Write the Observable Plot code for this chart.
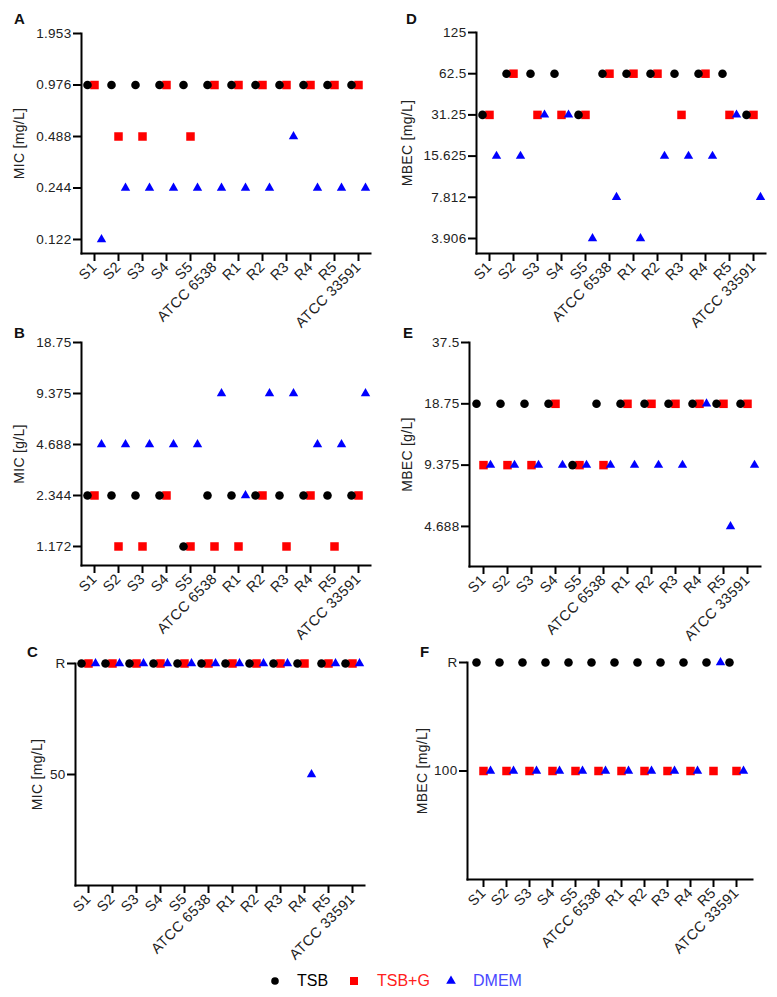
<!DOCTYPE html>
<html>
<head>
<meta charset="utf-8">
<script src="https://cdn.jsdelivr.net/npm/d3@7"></script>
<script src="https://cdn.jsdelivr.net/npm/@observablehq/plot@0.6"></script>
<style>
html, body { margin: 0; padding: 0; background: #fff; }
#fig { position: relative; width: 777px; height: 997px; overflow: hidden; font-family: "Liberation Sans", Arial, sans-serif; }
.panel { position: absolute; }
.panel svg { overflow: visible; }
.letter { position: absolute; font-weight: bold; font-size: 15px; color: #111; line-height: 1; }
.leg { position: absolute; font-size: 16px; line-height: 1; }
.legsym { position: absolute; }
</style>
</head>
<body>
<div id="fig"></div>
<script>
// ---------- data ----------
const strains = ["S1", "S2", "S3", "S4", "S5", "ATCC 6538", "R1", "R2", "R3", "R4", "R5", "ATCC 33591"];
const media = ["TSB", "TSB+G", "DMEM"];

// A: MIC [mg/L]
const ticksA = [0.122, 0.244, 0.488, 0.976, 1.953];
const tsbA  = [0.976, 0.976, 0.976, 0.976, 0.976, 0.976, 0.976, 0.976, 0.976, 0.976, 0.976, 0.976];
const tsbgA = [0.976, 0.488, 0.488, 0.976, 0.488, 0.976, 0.976, 0.976, 0.976, 0.976, 0.976, 0.976];
const dmemA = [0.122, 0.244, 0.244, 0.244, 0.244, 0.244, 0.244, 0.244, 0.488, 0.244, 0.244, 0.244];

// B: MIC [g/L]
const ticksB = [1.172, 2.344, 4.688, 9.375, 18.75];
const tsbB  = [2.344, 2.344, 2.344, 2.344, 1.172, 2.344, 2.344, 2.344, 2.344, 2.344, 2.344, 2.344];
const tsbgB = [2.344, 1.172, 1.172, 2.344, 1.172, 1.172, 1.172, 2.344, 1.172, 2.344, 1.172, 2.344];
const dmemB = [4.688, 4.688, 4.688, 4.688, 4.688, 9.375, 2.344, 9.375, 9.375, 4.688, 4.688, 9.375];

// C: MIC [mg/L]  ("R" = resistant)
const ticksC = [50, "R"];
const tsbC  = ["R", "R", "R", "R", "R", "R", "R", "R", "R", "R", "R", "R"];
const tsbgC = ["R", "R", "R", "R", "R", "R", "R", "R", "R", "R", "R", "R"];
const dmemC = ["R", "R", "R", "R", "R", "R", "R", "R", "R", 50, "R", "R"];

// D: MBEC [mg/L]
const ticksD = [3.906, 7.812, 15.625, 31.25, 62.5, 125];
const tsbD  = [31.25, 62.5, 62.5, 62.5, 31.25, 62.5, 62.5, 62.5, 62.5, 62.5, 62.5, 31.25];
const tsbgD = [31.25, 62.5, 31.25, 31.25, 31.25, 62.5, 62.5, 62.5, 31.25, 62.5, 31.25, 31.25];
const dmemD = [15.625, 15.625, 31.25, 31.25, 3.906, 7.812, 3.906, 15.625, 15.625, 15.625, 31.25, 7.812];

// E: MBEC [g/L]
const ticksE = [4.688, 9.375, 18.75, 37.5];
const tsbE  = [18.75, 18.75, 18.75, 18.75, 9.375, 18.75, 18.75, 18.75, 18.75, 18.75, 18.75, 18.75];
const tsbgE = [9.375, 9.375, 9.375, 18.75, 9.375, 9.375, 18.75, 18.75, 18.75, 18.75, 18.75, 18.75];
const dmemE = [9.375, 9.375, 9.375, 9.375, 9.375, 9.375, 9.375, 9.375, 9.375, 18.75, 4.688, 9.375];

// F: MBEC [mg/L]
const ticksF = [100, "R"];
const tsbF  = ["R", "R", "R", "R", "R", "R", "R", "R", "R", "R", "R", "R"];
const tsbgF = [100, 100, 100, 100, 100, 100, 100, 100, 100, 100, 100, 100];
const dmemF = [100, 100, 100, 100, 100, 100, 100, 100, 100, 100, "R", 100];

// ---------- layout / styling ----------
const panels = [
  {letter: "A", label: "MIC [mg/L]",  series: [tsbA, tsbgA, dmemA], ticks: ticksA, type: "log", domain: [0.101, 1.953],
   left: 0, frameTop: 33, frameBottom: 253, axisLeft: 81, axisRight: 370, width: 390, labelOffset: 67, lx: 19, ly: 18},
  {letter: "B", label: "MIC [g/L]",   series: [tsbB, tsbgB, dmemB], ticks: ticksB, type: "log", domain: [0.905, 18.75],
   left: 0, frameTop: 342, frameBottom: 565, axisLeft: 81, axisRight: 370, width: 390, labelOffset: 67, lx: 19, ly: 332},
  {letter: "C", label: "MIC [mg/L]",  series: [tsbC, tsbgC, dmemC], ticks: ticksC, type: "linear", domain: [0, 100], rCode: 100,
   left: 0, frameTop: 663, frameBottom: 885, axisLeft: 75, axisRight: 364, width: 390, labelOffset: 43, lx: 32, ly: 651},
  {letter: "D", label: "MBEC [mg/L]", series: [tsbD, tsbgD, dmemD], ticks: ticksD, type: "log", domain: [3.035, 125],
   left: 390, frameTop: 32, frameBottom: 253, axisLeft: 476, axisRight: 765, width: 387, labelOffset: 74, lx: 411, ly: 18},
  {letter: "E", label: "MBEC [g/L]",  series: [tsbE, tsbgE, dmemE], ticks: ticksE, type: "log", domain: [2.98, 37.5],
   left: 390, frameTop: 342, frameBottom: 566, axisLeft: 469, axisRight: 760, width: 387, labelOffset: 67, lx: 408, ly: 332},
  {letter: "F", label: "MBEC [mg/L]", series: [tsbF, tsbgF, dmemF], ticks: ticksF, type: "linear", domain: [0, 200], rCode: 200,
   left: 390, frameTop: 662, frameBottom: 879, axisLeft: 467, axisRight: 752, width: 387, labelOffset: 50, lx: 425, ly: 651}
];

const FONT = "'Liberation Sans', Arial, sans-serif";
const fig = document.getElementById("fig");
const TOPPAD = 30, BOTPAD = 90;

for (const p of panels) {
  const enc = v => (v === "R" ? p.rCode : v);
  const rows = strains.flatMap((s, i) => media.map((m, j) => ({strain: s, medium: m, value: enc(p.series[j][i])})));
  const tickVals = p.ticks.map(enc);
  const fmt = d => (p.rCode !== undefined && d === p.rCode ? "R" : String(d));
  const height = TOPPAD + (p.frameBottom - p.frameTop) + BOTPAD;
  const chart = Plot.plot({
    width: p.width,
    height,
    marginTop: TOPPAD,
    marginBottom: BOTPAD,
    marginLeft: p.axisLeft - p.left,
    marginRight: p.left + p.width - p.axisRight,
    style: {fontFamily: FONT, fontSize: "13.5px", color: "#222", background: "transparent", overflow: "visible", letterSpacing: "0.3px"},
    x: {type: "point", domain: strains, padding: 0.5},
    y: p.type === "log" ? {type: "log", base: 2, domain: p.domain} : {type: "linear", domain: p.domain},
    marks: [
      Plot.frame({anchor: "left", stroke: "#000", strokeWidth: 2}),
      Plot.frame({anchor: "bottom", stroke: "#000", strokeWidth: 2}),
      Plot.axisY({ticks: tickVals, tickFormat: fmt, tickSize: 8, tickPadding: 2, stroke: "#000", strokeWidth: 2,
                  fontSize: 13.5, label: null}),
      Plot.axisY({ticks: [], tickSize: 0, label: p.label, labelAnchor: "center", labelOffset: p.labelOffset,
                  labelArrow: "none", fontSize: 14}),
      Plot.axisX({tickRotate: -45, tickSize: 8, tickPadding: 3, stroke: "#000", strokeWidth: 2, fontSize: 14.5, label: null}),
      Plot.dot(rows.filter(d => d.medium === "TSB+G"), {x: "strain", y: "value", symbol: "square", r: 4.8, fill: "#ff0000", stroke: "none"}),
      Plot.dot(rows.filter(d => d.medium === "TSB"), {x: "strain", y: "value", symbol: "circle", r: 4.3, fill: "#000", stroke: "none", dx: -7}),
      Plot.dot(rows.filter(d => d.medium === "DMEM"), {x: "strain", y: "value", symbol: "triangle", r: 3.5, fill: "#0000ff", stroke: "none", dx: 7})
    ]
  });
  const div = document.createElement("div");
  div.className = "panel";
  div.style.left = p.left + "px";
  div.style.top = (p.frameTop - TOPPAD) + "px";
  div.style.width = p.width + "px";
  div.appendChild(chart);
  fig.appendChild(div);

  const L = document.createElement("div");
  L.className = "letter";
  L.textContent = p.letter;
  L.style.left = (p.lx - 5) + "px";
  L.style.top = (p.ly - 7) + "px";
  fig.appendChild(L);
}

// ---------- legend ----------
const legendItems = [
  {name: "TSB",   sym: "circle",   color: "#000000", text: "#000000", sx: 275, tx: 297},
  {name: "TSB+G", sym: "square",   color: "#ff0000", text: "#ff2020", sx: 354, tx: 377},
  {name: "DMEM",  sym: "triangle", color: "#0000ff", text: "#4848ff", sx: 451, tx: 473}
];
const LEGY = 981;
for (const it of legendItems) {
  const ns = "http://www.w3.org/2000/svg";
  const svg = document.createElementNS(ns, "svg");
  svg.setAttribute("width", 14); svg.setAttribute("height", 14);
  svg.setAttribute("class", "legsym");
  svg.style.left = (it.sx - 7) + "px"; svg.style.top = (LEGY - 7) + "px";
  const path = document.createElementNS(ns, "path");
  const sym = {circle: d3.symbolCircle, square: d3.symbolSquare, triangle: d3.symbolTriangle}[it.sym];
  const size = {circle: Math.PI * 3.8 * 3.8, square: 64, triangle: 40}[it.sym];
  path.setAttribute("d", d3.symbol(sym, size)());
  path.setAttribute("transform", "translate(7,7)");
  path.setAttribute("fill", it.color);
  svg.appendChild(path);
  fig.appendChild(svg);
  const t = document.createElement("div");
  t.className = "leg";
  t.textContent = it.name;
  t.style.color = it.text;
  t.style.left = it.tx + "px";
  t.style.top = (LEGY - 8) + "px";
  fig.appendChild(t);
}
</script>
</body>
</html>
